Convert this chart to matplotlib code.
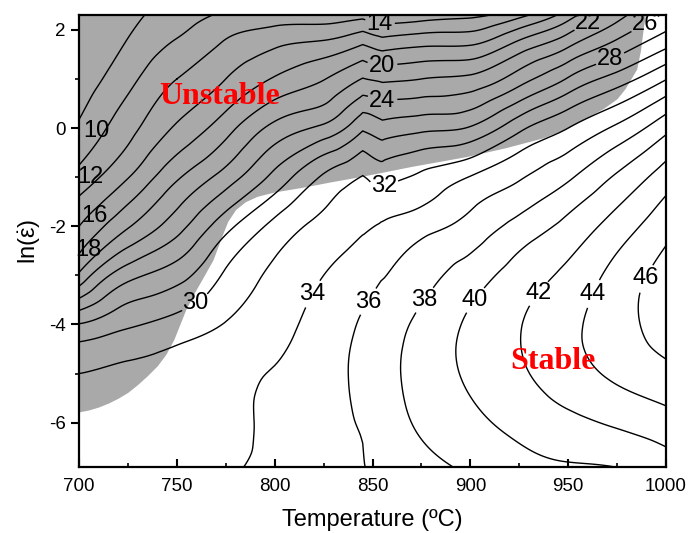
import numpy as np
import matplotlib
matplotlib.use('Agg')
import matplotlib.pyplot as plt
import matplotlib.tri as mtri
from matplotlib.ticker import MultipleLocator

# efficiency of power dissipation (%)
temps = np.array([700, 725, 750, 775, 800, 825, 845, 855, 875, 900, 925, 950, 975, 1000])
ln_rates = np.array([-6.91, -6, -5, -4, -3, -2, -1.5, -1, 0, 1, 1.7, 2.31])
eta = np.array([
    [33.2, 33.3, 33.5, 33.8, 34.4, 35.3, 35.9, 36.4, 37.4, 38.3, 39.3, 39.8, 40.0, 41.0],
    [32.8, 33.0, 33.3, 33.6, 34.3, 35.4, 36.1, 37.0, 38.3, 39.5, 40.6, 41.5, 42.3, 43.2],
    [32.0, 32.5, 33.0, 33.5, 34.1, 35.3, 36.4, 37.2, 38.8, 40.3, 41.7, 43.1, 44.4, 45.4],
    [28.1, 29.7, 30.8, 32.1, 33.3, 34.9, 36.2, 36.9, 38.5, 40.3, 41.9, 43.5, 45.2, 47.0],
    [20.4, 25.3, 27.2, 30.3, 32.4, 34.0, 35.2, 35.9, 37.2, 39.0, 40.9, 42.5, 44.7, 46.8],
    [16.0, 19.8, 23.2, 27.3, 30.6, 32.6, 33.7, 34.2, 35.3, 36.7, 38.7, 40.6, 42.9, 45.3],
    [14.4, 17.8, 21.5, 25.1, 28.7, 31.7, 32.8, 33.1, 33.7, 35.6, 37.2, 39.3, 41.7, 44.3],
    [12.7, 15.9, 19.7, 22.9, 26.6, 30.3, 32.1, 31.3, 32.4, 34.1, 35.8, 37.7, 40.3, 43.0],
    [10.3, 13.3, 16.3, 19.2, 22.6, 24.5, 27.7, 26.8, 27.5, 28.2, 31.5, 34.0, 36.4, 39.4],
    [8.8, 11.4, 14.0, 16.0, 18.2, 19.9, 22.1, 21.6, 22.0, 22.5, 25.1, 28.2, 30.9, 33.9],
    [7.8, 10.2, 12.3, 14.3, 15.7, 16.5, 18.0, 17.1, 17.7, 17.9, 20.7, 23.6, 26.6, 29.5],
    [7.0, 9.3, 11.0, 12.3, 12.8, 12.8, 13.3, 12.4, 12.9, 13.5, 15.3, 19.0, 23.2, 26.3],
])
levels = np.arange(10, 47, 2)

# instability domain: right-hand temperature limit for each ln(strain rate)
unstable_lnr = np.array([-5.78, -5.74, -5.68, -5.6, -5.5, -5.38, -5.22, -5.04, -4.84, -4.6,
                         -4.3, -4.0, -3.7, -3.35, -3.0, -2.68, -2.2, -1.9, -1.66, -1.5,
                         -1.39, -1.3, -1.2, -1.1, -1.0, -0.9, -0.78, -0.58, -0.4, -0.2,
                         0.0, 0.2, 0.4, 0.6, 0.8, 1.0, 1.2, 1.59, 2.07, 2.31])
unstable_temp = np.array([700, 705, 710, 715, 720, 725, 730, 735, 740, 744.5,
                          748.5, 751.5, 754.5, 759, 764, 768.5, 773, 776, 780, 785,
                          791, 800, 815, 828, 842, 855, 870, 898, 918, 937,
                          950, 959, 968, 975, 979, 982, 985, 987, 988.5, 989.5])

plt.rcParams['font.family'] = ['Liberation Sans', 'DejaVu Sans']
plt.rcParams['axes.unicode_minus'] = False
plt.rcParams['mathtext.fontset'] = 'custom'
plt.rcParams['mathtext.rm'] = 'Liberation Sans'
plt.rcParams['mathtext.it'] = 'Liberation Sans'

fig = plt.figure(figsize=(6.89, 5.33), dpi=100)
ax = fig.add_axes([0.1147, 0.1233, 0.8519, 0.8486])

# smooth each temperature block with matplotlib's cubic refiner, keeping the
# sharp bend of the map at ~850 C, then stitch the blocks together
xs, ys, zs, tris = [], [], [], []
offset = 0
for lo, hi, kind in [(0, 7, 'min_E'), (6, 8, 'geom'), (7, 14, 'min_E')]:
    TT, RR = np.meshgrid(temps[lo:hi], ln_rates)
    tri = mtri.Triangulation((TT.ravel() - 700) / 300.0, (RR.ravel() + 6.91) / 9.22)
    zb = eta[:, lo:hi].ravel()
    interp = mtri.CubicTriInterpolator(tri, zb, kind=kind)
    tri_f, z_f = mtri.UniformTriRefiner(tri).refine_field(zb, triinterpolator=interp, subdiv=4)
    xs.append(tri_f.x)
    ys.append(tri_f.y)
    zs.append(z_f)
    tris.append(tri_f.triangles + offset)
    offset += len(tri_f.x)
pts = np.round(np.column_stack([np.concatenate(xs), np.concatenate(ys)]), 7)
uniq, inv = np.unique(pts, axis=0, return_inverse=True)
inv = inv.ravel()
z_all = np.concatenate(zs)
z_u = np.zeros(len(uniq))
cnt = np.zeros(len(uniq))
np.add.at(z_u, inv, z_all)
np.add.at(cnt, inv, 1)
z_u /= cnt
tri_d = mtri.Triangulation(uniq[:, 0] * 300 + 700, uniq[:, 1] * 9.22 - 6.91,
                           inv[np.concatenate(tris)])

ax.fill_betweenx(unstable_lnr, 700, unstable_temp, color='#a9a9a9', lw=0, zorder=0)

cs = ax.tricontour(tri_d, z_u, levels=levels, colors='k', linewidths=1.0, zorder=2)

# labels that sit on a line (line is broken under the number)
label_at = {14: (854, 2.16), 20: (855, 1.25), 22: (961, 2.1), 24: (855, 0.54),
            26: (991, 2.04), 28: (971, 1.45), 30: (760, -3.6), 32: (856, -1.19),
            34: (820, -3.4), 36: (845, -3.45), 38: (875, -3.49), 40: (901, -3.43),
            42: (934, -3.35), 44: (961, -3.35), 46: (989, -3.05)}
manual = []
paths = cs.get_paths()
for lev, (tx, ty) in label_at.items():
    v = paths[list(levels).index(lev)].vertices
    if len(v) == 0:
        continue
    d = ((v[:, 0] - tx) / 300 * 587) ** 2 + ((v[:, 1] - ty) / 9.22 * 452) ** 2
    manual.append(tuple(v[np.argmin(d)]))
ax.clabel(cs, manual=manual, fmt='%d', fontsize=17, inline=True, inline_spacing=2)
for t in cs.labelTexts:
    t.set_rotation(0)

# labels next to the left edge, where the lines leave the map
edge_labels = {10: (709, -0.06), 12: (706, -1.0), 16: (708, -1.8), 18: (705, -2.48)}
for lev, (tx, ty) in edge_labels.items():
    ax.text(tx, ty, str(lev), fontsize=17, ha='center', va='center', zorder=4)

ax.text(772, 0.64, 'Unstable', color='red', fontsize=23, fontweight='bold',
        family='Liberation Serif', ha='center', va='center', zorder=5)
ax.text(942, -4.75, 'Stable', color='red', fontsize=23, fontweight='bold',
        family='Liberation Serif', ha='center', va='center', zorder=5)

ax.set_xlim(700, 1000)
ax.set_ylim(-6.908, 2.303)
ax.xaxis.set_major_locator(MultipleLocator(50))
ax.xaxis.set_minor_locator(MultipleLocator(25))
ax.yaxis.set_major_locator(MultipleLocator(2))
ax.yaxis.set_minor_locator(MultipleLocator(1))
ax.tick_params(axis='x', which='both', direction='in', labelsize=13.5, pad=8)
ax.tick_params(axis='x', which='major', length=6, width=1.5)
ax.tick_params(axis='x', which='minor', length=3, width=1.2)
ax.tick_params(axis='y', which='both', direction='out', labelsize=13.5)
ax.tick_params(axis='y', which='major', length=6, width=1.5)
ax.tick_params(axis='y', which='minor', length=3, width=1.2)
for s in ax.spines.values():
    s.set_linewidth(1.6)

ax.set_xlabel('Temperature (ºC)', fontsize=17, labelpad=10)
ax.set_ylabel(r'ln($\dot{\varepsilon}$)', fontsize=17, labelpad=4)

fig.savefig('out.png', dpi=100)
